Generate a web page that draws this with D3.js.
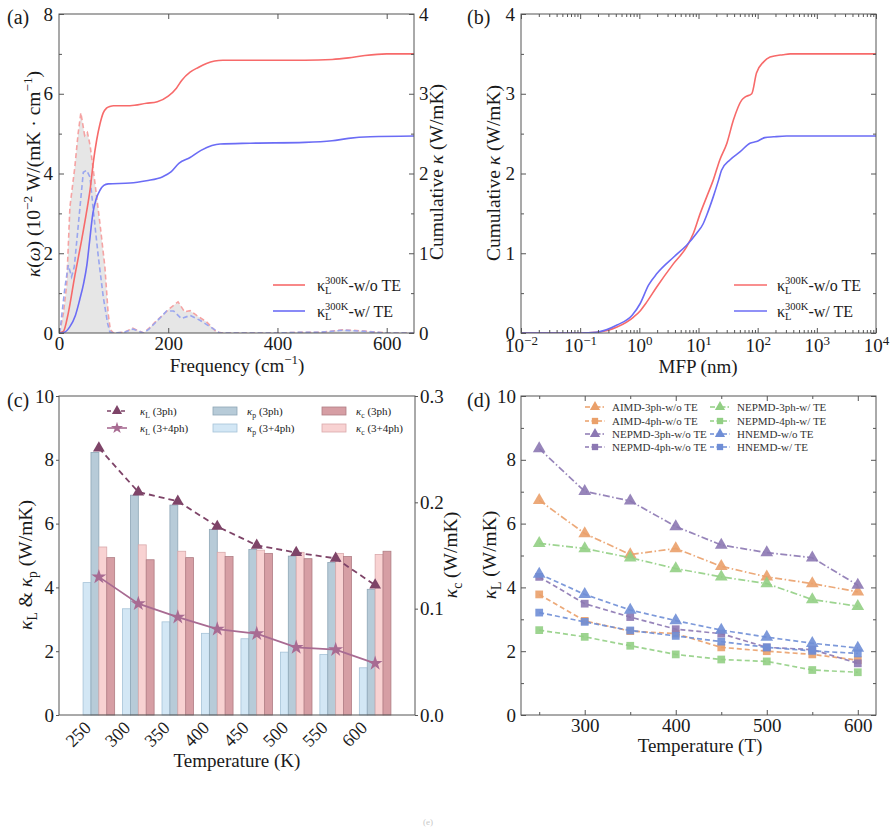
<!DOCTYPE html>
<html><head><meta charset="utf-8">
<script src="https://cdn.jsdelivr.net/npm/d3@7"></script>
<style>body{margin:0;background:#fff}</style>
</head><body>
<script>
// ================= DATA =================
const specFreqRed = [0,2,8,14,20,29,35,40,47,52,57,66,75,84,90,94,100,120,135,155,165,178,190,203,218,230,240,252,270,288,300,400,450,480,520,560,600,650];
const specRed     = [0,0.07,0.49,1.2,3.16,4.16,5.0,5.52,4.95,5.03,4.7,3.74,2.74,1.66,0.49,0.08,0,0.02,0.12,0.0,0.12,0.3,0.45,0.62,0.78,0.53,0.56,0.44,0.28,0.03,0,0,0.02,0.02,0.08,0.05,0,0];
const specFreqBlue = [0,2,11,17,23,28,35,44.5,50.6,56.7,62.8,72,81,89,93,100,120,135,155,165,178,197,210,224,240,258,282,294,300,400,450,480,520,560,600,650];
const specBlue     = [0,0.07,1.16,1.70,1.41,1.66,2.66,4.03,4.08,3.91,3.08,1.91,0.91,0.24,0.03,0,0.02,0.1,0,0.1,0.28,0.55,0.55,0.36,0.44,0.32,0.11,0,0,0,0.02,0.02,0.07,0.04,0,0];
const cumFreqRed = [0,8,17,29,41,50,57,63,69,75,81,87,93,100,130,160,180,200,215,225,240,255,270,285,300,350,450,500,530,560,600,650];
const cumRed     = [0,0.02,0.25,0.72,1.15,1.5,1.8,2.15,2.42,2.62,2.76,2.82,2.84,2.85,2.85,2.88,2.9,2.97,3.07,3.17,3.27,3.33,3.38,3.41,3.42,3.42,3.42,3.43,3.45,3.48,3.5,3.5];
const cumFreqBlue = [0,10,20,30,38,45,51,56,62,68,75,82,90,130,160,190,205,220,240,260,280,295,350,450,500,530,570,650];
const cumBlue     = [0,0.01,0.08,0.22,0.42,0.62,0.85,1.15,1.5,1.68,1.79,1.85,1.87,1.88,1.91,1.96,2.02,2.13,2.2,2.29,2.35,2.37,2.38,2.39,2.41,2.44,2.46,2.47];
const freqTicks = [0,200,400,600];

const mfpRed = [0.01,0.1,0.19,0.42,0.8,1.04,1.34,1.98,3.78,6.3,8.2,10.7,13.8,17.8,22.9,30.2,38.9,53.7,61.7,79.4,95.5,126,162,269,355,10000];
const mfpRedK = [0,0,0.01,0.075,0.2,0.28,0.39,0.58,0.87,1.08,1.25,1.50,1.71,1.92,2.17,2.38,2.67,2.92,2.96,3.0,3.26,3.40,3.46,3.49,3.5,3.5];
const mfpBlue = [0.01,0.1,0.19,0.42,0.75,1.035,1.43,1.98,3.78,6.3,9.3,12.0,13.8,17.8,21.9,24.5,33.9,50.1,74.1,95.5,132,186,309,10000];
const mfpBlueK = [0,0,0.01,0.10,0.22,0.37,0.60,0.745,0.95,1.10,1.25,1.37,1.48,1.71,1.92,2.04,2.17,2.27,2.38,2.40,2.45,2.46,2.47,2.47];
const mfpTicks = [1e-2,1e-1,1e0,1e1,1e2,1e3,1e4];

const tempsC = [250,300,350,400,450,500,550,600];
const kp3  = [8.23,6.89,6.58,5.82,5.19,4.98,4.78,3.94];
const kp34 = [4.15,3.33,2.92,2.56,2.39,1.97,1.90,1.48];
const kc3  = [0.148,0.146,0.148,0.149,0.152,0.147,0.149,0.154];
const kc34 = [0.158,0.160,0.154,0.153,0.155,0.153,0.152,0.151];
const kL3  = [8.37,6.99,6.70,5.91,5.32,5.09,4.91,4.07];
const kL34 = [4.33,3.49,3.07,2.69,2.55,2.12,2.05,1.62];

const tempsD = [250,300,350,400,450,500,550,600];
const aimd3  = [6.73,5.69,5.03,5.22,4.66,4.33,4.12,3.86];
const aimd4  = [3.78,2.95,2.63,2.55,2.12,2.00,1.90,1.72];
const nep3wo = [8.35,7.01,6.71,5.91,5.33,5.09,4.93,4.07];
const nep4wo = [4.33,3.49,3.07,2.69,2.55,2.12,2.05,1.62];
const nep3w  = [5.38,5.22,4.93,4.59,4.33,4.12,3.62,3.41];
const nep4w  = [2.66,2.45,2.17,1.90,1.74,1.68,1.41,1.34];
const hnemdWo = [4.42,3.78,3.29,2.96,2.66,2.44,2.25,2.10];
const hnemdW  = [3.21,2.92,2.65,2.48,2.30,2.12,2.01,1.93];
const legendD = ["AIMD-3ph-w/o TE","AIMD-4ph-w/o TE","NEPMD-3ph-w/o TE","NEPMD-4ph-w/o TE","NEPMD-3ph-w/ TE","NEPMD-4ph-w/ TE","HNEMD-w/o TE","HNEMD-w/ TE"];

// ================= DRAWING =================
const FONT = "Liberation Serif, Tinos, Times New Roman, serif";
const FRAME = "#555", TXT = "#1a1a1a", TFS = 19;
const svg = d3.select("body").append("svg").attr("width",896).attr("height",831)
  .attr("font-family",FONT);
const defs = svg.append("defs");

function frame(x0,y0,x1,y1){
  svg.append("rect").attr("x",x0).attr("y",y0).attr("width",x1-x0).attr("height",y1-y0)
    .attr("fill","none").attr("stroke",FRAME).attr("stroke-width",1);
}
function clip(id,x0,y0,x1,y1){
  defs.append("clipPath").attr("id",id).append("rect").attr("x",x0).attr("y",y0).attr("width",x1-x0).attr("height",y1-y0);
  return svg.append("g").attr("clip-path",`url(#${id})`);
}
function axis(gen, tx, ty, fs){
  const g = svg.append("g").attr("transform",`translate(${tx},${ty})`).call(gen);
  g.attr("font-family",FONT).attr("font-size",fs||TFS);
  g.select(".domain").remove();
  g.selectAll(".tick line").attr("stroke",FRAME).attr("stroke-width",1);
  g.selectAll(".tick text").attr("fill",TXT);
  return g;
}
function rich(sel, parts, fs){
  let shift = 0;
  parts.forEach(p=>{
    const ts = sel.append("tspan").text(p.t);
    let target = 0;
    if(p.sup){ target = -0.42*fs; ts.attr("font-size",0.68*fs); }
    else if(p.sub){ target = 0.25*fs; ts.attr("font-size",0.7*fs); }
    const dy = target - shift;
    if(dy!==0) ts.attr("dy",dy);
    shift = target;
    if(p.it) ts.attr("font-style","italic");
  });
  return sel;
}
function vlabel(x,y,parts,fs){
  const t = svg.append("text").attr("transform",`translate(${x},${y}) rotate(-90)`)
    .attr("text-anchor","middle").attr("font-size",fs).attr("fill",TXT);
  rich(t,parts,fs);
}
function hlabel(x,y,parts,fs,anchor){
  const t = svg.append("text").attr("x",x).attr("y",y)
    .attr("text-anchor",anchor||"middle").attr("font-size",fs).attr("fill",TXT);
  rich(t,parts,fs);
  return t;
}
function zip(xs,ys){ return xs.map((x,i)=>[x,ys[i]]); }
function measure(str,fs){
  const t = svg.append("text").attr("font-size",fs).text(str);
  const w = t.node().getComputedTextLength(); t.remove(); return w;
}
function kappaLegend(x,y,rest,fs){
  const kw = measure("κ",fs), sw = measure("300K",10.5);
  const t = svg.append("text").attr("x",x).attr("y",y).attr("font-size",fs).attr("fill",TXT);
  t.append("tspan").text("κ");
  t.append("tspan").attr("font-size",10.5).attr("dy",-7).text("300K");
  t.append("tspan").attr("font-size",10.5).attr("x",x+kw).attr("dy",10).text("L");
  t.append("tspan").attr("x",x+kw+sw).attr("dy",-3).text(rest);
}

const RED = "#f76a6a", BLUE = "#6b6cf5", RED_D = "#f5a3a3", BLUE_D = "#9aa6ef";
const intFmt = d3.format("d");

// ---------- Panel (a) ----------
{
  const L=59,R=414,T=14,B=333;
  const x = d3.scaleLinear().domain([0,650]).range([L,R]);
  const yl = d3.scaleLinear().domain([0,8]).range([B,T]);
  const yr = d3.scaleLinear().domain([0,4]).range([B,T]);
  const g = clip("clipA",L,T,R,B);
  const red = zip(specFreqRed,specRed), blue = zip(specFreqBlue,specBlue);
  g.append("path").datum(red).attr("fill","#e2e2e2").attr("fill-opacity",0.85)
    .attr("d",d3.area().x(d=>x(d[0])).y0(yl(0)).y1(d=>yl(d[1])));
  const ls = d3.line().x(d=>x(d[0])).y(d=>yl(d[1]));
  g.append("path").datum(red).attr("fill","none").attr("stroke",RED_D).attr("stroke-width",1.6).attr("stroke-dasharray","5,3").attr("d",ls);
  g.append("path").datum(blue).attr("fill","none").attr("stroke",BLUE_D).attr("stroke-width",1.6).attr("stroke-dasharray","5,3").attr("d",ls);
  const lc = d3.line().x(d=>x(d[0])).y(d=>yr(d[1])).curve(d3.curveMonotoneX);
  g.append("path").datum(zip(cumFreqRed,cumRed)).attr("fill","none").attr("stroke",RED).attr("stroke-width",1.6).attr("d",lc);
  g.append("path").datum(zip(cumFreqBlue,cumBlue)).attr("fill","none").attr("stroke",BLUE).attr("stroke-width",1.6).attr("d",lc);
  frame(L,T,R,B);
  axis(d3.axisBottom(x).tickValues(freqTicks).tickFormat(intFmt).tickSize(-5).tickPadding(4),0,B);
  axis(d3.axisTop(x).tickValues(freqTicks.slice(1)).tickSize(-5).tickFormat(""),0,T);
  axis(d3.axisLeft(yl).tickValues([0,2,4,6,8]).tickFormat(intFmt).tickSize(-5).tickPadding(6),L,0);
  axis(d3.axisLeft(yl).tickValues([1,3,5,7]).tickSize(-3).tickFormat(""),L,0);
  axis(d3.axisRight(yr).tickValues([0,1,2,3,4]).tickFormat(intFmt).tickSize(-5).tickPadding(5),R,0);
  axis(d3.axisRight(yr).tickValues([0.5,1.5,2.5,3.5]).tickSize(-3).tickFormat(""),R,0);
  svg.append("line").attr("x1",273).attr("x2",305).attr("y1",285).attr("y2",285).attr("stroke",RED).attr("stroke-width",1.6);
  svg.append("line").attr("x1",273).attr("x2",305).attr("y1",311).attr("y2",311).attr("stroke",BLUE).attr("stroke-width",1.6);
  kappaLegend(317,291,"-w/o TE",16);
  kappaLegend(317,317,"-w/ TE",16);
  hlabel(237,372,[{t:"Frequency (cm"},{t:"−1",sup:true},{t:")"}],19);
  vlabel(40,174,[{t:"κ",it:true},{t:"("},{t:"ω",it:true},{t:") (10"},{t:"−2",sup:true},{t:" W/(mK · cm"},{t:"−1",sup:true},{t:")"}],19.5);
  vlabel(443,172,[{t:"Cumulative "},{t:"κ",it:true},{t:" (W/mK)"}],19.5);
  hlabel(7,24,[{t:"(a)"}],20,"start");
}

// ---------- Panel (b) ----------
{
  const L=521,R=876,T=14,B=333;
  const x = d3.scaleLog().domain([1e-2,1e4]).range([L,R]);
  const y = d3.scaleLinear().domain([0,4]).range([B,T]);
  const g = clip("clipB",L,T,R,B);
  const lc = d3.line().x(d=>x(d[0])).y(d=>y(d[1])).curve(d3.curveMonotoneX);
  g.append("path").datum(zip(mfpRed,mfpRedK)).attr("fill","none").attr("stroke",RED).attr("stroke-width",1.6).attr("d",lc);
  g.append("path").datum(zip(mfpBlue,mfpBlueK)).attr("fill","none").attr("stroke",BLUE).attr("stroke-width",1.6).attr("d",lc);
  frame(L,T,R,B);
  const minor = [];
  for(let e=-2;e<4;e++) for(let d=2;d<10;d++) minor.push(d*Math.pow(10,e));
  const gb = axis(d3.axisBottom(x).tickValues(mfpTicks).tickSize(-5).tickPadding(6),0,B);
  gb.selectAll(".tick text").each(function(d){
    const t = d3.select(this); t.text("");
    t.append("tspan").text("10");
    t.append("tspan").attr("dy",-8).attr("font-size",13).text(String(Math.round(Math.log10(d))).replace("-","−"));
  });
  axis(d3.axisBottom(x).tickValues(minor).tickSize(-3).tickFormat(""),0,B);
  axis(d3.axisTop(x).tickValues(mfpTicks).tickSize(-5).tickFormat(""),0,T);
  axis(d3.axisTop(x).tickValues(minor).tickSize(-3).tickFormat(""),0,T);
  axis(d3.axisLeft(y).tickValues([0,1,2,3,4]).tickFormat(intFmt).tickSize(-5).tickPadding(6),L,0);
  axis(d3.axisLeft(y).tickValues([0.5,1.5,2.5,3.5]).tickSize(-3).tickFormat(""),L,0);
  axis(d3.axisRight(y).tickValues([0,1,2,3,4]).tickSize(-5).tickFormat(""),R,0);
  axis(d3.axisRight(y).tickValues([0.5,1.5,2.5,3.5]).tickSize(-3).tickFormat(""),R,0);
  svg.append("line").attr("x1",734).attr("x2",767).attr("y1",285).attr("y2",285).attr("stroke",RED).attr("stroke-width",1.6);
  svg.append("line").attr("x1",734).attr("x2",767).attr("y1",311).attr("y2",311).attr("stroke",BLUE).attr("stroke-width",1.6);
  kappaLegend(777,291,"-w/o TE",16);
  kappaLegend(777,317,"-w/ TE",16);
  hlabel(698,373,[{t:"MFP (nm)"}],19);
  vlabel(500,173,[{t:"Cumulative "},{t:"κ",it:true},{t:" (W/mK)"}],19.5);
  hlabel(467,24,[{t:"(b)"}],20,"start");
}

// ---------- Panel (c) ----------
{
  const L=59,R=415,T=396,B=715;
  const x = d3.scaleLinear().domain([-1.01,8.01]).range([L,R]);
  const yl = d3.scaleLinear().domain([0,10]).range([B,T]);
  const yr = d3.scaleLinear().domain([0,0.3]).range([B,T]);
  const bw = x(0.2)-x(0);
  const series = [
    {v:kp34, y:yl, off:-2, fill:"#d3e7f5", stroke:"#a6c3d8"},
    {v:kp3,  y:yl, off:-1, fill:"#b7cbd8", stroke:"#8ea6b6"},
    {v:kc34, y:yr, off:0,  fill:"#f8d2d2", stroke:"#d9a9ab"},
    {v:kc3,  y:yr, off:1,  fill:"#d69ea4", stroke:"#b07d84"}
  ];
  series.forEach(s=>{
    svg.append("g").selectAll("rect").data(s.v).join("rect")
      .attr("x",(d,i)=>x(i+s.off*0.2)).attr("width",bw)
      .attr("y",d=>s.y(d)).attr("height",d=>B-s.y(d))
      .attr("fill",s.fill).attr("stroke",s.stroke).attr("stroke-width",0.8);
  });
  const C3 = "#7e4468", C34 = "#a86b92";
  const ln = d3.line().x((d,i)=>x(i)).y(d=>yl(d));
  svg.append("path").datum(kL3).attr("fill","none").attr("stroke",C3).attr("stroke-width",1.8).attr("stroke-dasharray","6,4").attr("d",ln);
  svg.append("path").datum(kL34).attr("fill","none").attr("stroke",C34).attr("stroke-width",1.8).attr("d",ln);
  svg.append("g").selectAll("path").data(kL3).join("path")
    .attr("transform",(d,i)=>`translate(${x(i)},${yl(d)})`).attr("d",d3.symbol(d3.symbolTriangle,60)).attr("fill",C3);
  svg.append("g").selectAll("path").data(kL34).join("path")
    .attr("transform",(d,i)=>`translate(${x(i)},${yl(d)})`).attr("d",d3.symbol(d3.symbolStar,70)).attr("fill",C34);
  frame(L,T,R,B);
  const step = x(1)-x(0);
  // rotated category labels (each in its own translated group)
  const lab = svg.append("g").selectAll("g").data(tempsC).join("g")
    .attr("transform",(d,i)=>`translate(${(x(i)-0.25*step+3).toFixed(2)},${B+14})`);
  lab.append("text").attr("transform","rotate(-45)").attr("x",0).attr("y",0)
    .attr("text-anchor","end").attr("font-size",18).attr("fill",TXT).text(d=>d);
  axis(d3.axisLeft(yl).tickValues([0,2,4,6,8,10]).tickFormat(intFmt).tickSize(3).tickPadding(2),L,0);
  axis(d3.axisRight(yr).tickValues([0,0.1,0.2,0.3]).tickFormat(d3.format(".1f")).tickSize(3).tickPadding(2),R,0);
  const lf = 11;
  const leg = [[107,411,C3,"6,4",d3.symbolTriangle,"3ph"],[107,428,C34,null,d3.symbolStar,"3+4ph"]];
  leg.forEach(([lx,ly,c,da,sym,lb])=>{
    const l = svg.append("line").attr("x1",lx).attr("x2",lx+20).attr("y1",ly).attr("y2",ly).attr("stroke",c).attr("stroke-width",1.6);
    if(da) l.attr("stroke-dasharray","4,3");
    svg.append("path").attr("transform",`translate(${lx+10},${ly})`).attr("d",d3.symbol(sym,45)).attr("fill",c);
    hlabel(lx+33,ly+4,[{t:"κ",it:true},{t:"L",sub:true},{t:` (${lb})`}],lf,"start");
  });
  const patches = [[213,411,series[1],"p","3ph"],[213,428,series[0],"p","3+4ph"],[322,411,series[3],"c","3ph"],[322,428,series[2],"c","3+4ph"]];
  patches.forEach(([px,py,s,sub,lb])=>{
    svg.append("rect").attr("x",px).attr("y",py-4).attr("width",24).attr("height",8).attr("fill",s.fill).attr("stroke",s.stroke).attr("stroke-width",0.8);
    hlabel(px+34,py+4,[{t:"κ",it:true},{t:sub,sub:true},{t:` (${lb})`}],lf,"start");
  });
  hlabel(237,767,[{t:"Temperature (K)"}],19);
  vlabel(32,565,[{t:"κ",it:true},{t:"L",sub:true},{t:" & "},{t:"κ",it:true},{t:"p",sub:true},{t:" (W/mK)"}],19.5);
  vlabel(457,555,[{t:"κ",it:true},{t:"c",sub:true},{t:" (W/mK)"}],19.5);
  hlabel(7,407,[{t:"(c)"}],20,"start");
}

// ---------- Panel (d) ----------
{
  const L=521,R=876,T=396,B=715;
  const x = d3.scaleLinear().domain([230,620]).range([L,R]);
  const y = d3.scaleLinear().domain([0,10]).range([B,T]);
  const OR="#eaa06a", PU="#8c78b3", GR="#92cf84", BL="#6f8ed6";
  const DD="7,2.5,1.5,2.5", DS="5,3";
  const ser = [
    {v:aimd3,c:OR,da:DD,s:d3.symbolTriangle},
    {v:aimd4,c:OR,da:DS,s:d3.symbolSquare},
    {v:nep3wo,c:PU,da:DD,s:d3.symbolTriangle},
    {v:nep4wo,c:PU,da:DS,s:d3.symbolSquare},
    {v:nep3w,c:GR,da:DD,s:d3.symbolTriangle},
    {v:nep4w,c:GR,da:DS,s:d3.symbolSquare},
    {v:hnemdWo,c:BL,da:DS,s:d3.symbolTriangle},
    {v:hnemdW,c:BL,da:DS,s:d3.symbolSquare}
  ];
  const ln = d3.line().x((d,i)=>x(tempsD[i])).y(d=>y(d));
  ser.forEach(s=>{
    svg.append("path").datum(s.v).attr("fill","none").attr("stroke",s.c).attr("stroke-width",1.7)
      .attr("stroke-dasharray",s.da).attr("opacity",0.9).attr("d",ln);
    svg.append("g").selectAll("path").data(s.v).join("path")
      .attr("transform",(d,i)=>`translate(${x(tempsD[i])},${y(d)})`)
      .attr("d",d3.symbol(s.s,s.s===d3.symbolSquare?60:70)).attr("fill",s.c).attr("opacity",0.9);
  });
  frame(L,T,R,B);
  axis(d3.axisBottom(x).tickValues([300,400,500,600]).tickFormat(intFmt).tickSize(-5).tickPadding(4),0,B);
  axis(d3.axisBottom(x).tickValues([250,350,450,550]).tickSize(-3).tickFormat(""),0,B);
  axis(d3.axisTop(x).tickValues([300,400,500,600]).tickSize(-5).tickFormat(""),0,T);
  axis(d3.axisTop(x).tickValues([250,350,450,550]).tickSize(-3).tickFormat(""),0,T);
  axis(d3.axisLeft(y).tickValues([0,2,4,6,8,10]).tickFormat(intFmt).tickSize(-5).tickPadding(5),L,0);
  axis(d3.axisLeft(y).tickValues([1,3,5,7,9]).tickSize(-3).tickFormat(""),L,0);
  axis(d3.axisRight(y).tickValues([0,2,4,6,8,10]).tickSize(-5).tickFormat(""),R,0);
  axis(d3.axisRight(y).tickValues([1,3,5,7,9]).tickSize(-3).tickFormat(""),R,0);
  const rows=[407,421,434,447];
  ser.forEach((s,i)=>{
    const lx = i<4?585:710, ly = rows[i%4];
    svg.append("line").attr("x1",lx).attr("x2",lx+20).attr("y1",ly).attr("y2",ly)
      .attr("stroke",s.c).attr("stroke-width",1.6).attr("stroke-dasharray",s.da==DD?"5,2,1.5,2":"4,2.5");
    svg.append("path").attr("transform",`translate(${lx+10},${ly})`).attr("d",d3.symbol(s.s,s.s===d3.symbolSquare?40:45)).attr("fill",s.c);
    svg.append("text").attr("x",lx+27).attr("y",ly+4).attr("font-size",11).attr("fill","#333").text(legendD[i]);
  });
  hlabel(700,752,[{t:"Temperature (T)"}],19);
  vlabel(496,555,[{t:"κ",it:true},{t:"L",sub:true},{t:" (W/mK)"}],19.5);
  hlabel(467,407,[{t:"(d)"}],20,"start");
}
svg.append("text").attr("x",428).attr("y",825).attr("text-anchor","middle").attr("font-size",9).attr("fill","#c8c8c8").text("(e)");
</script></body></html>
